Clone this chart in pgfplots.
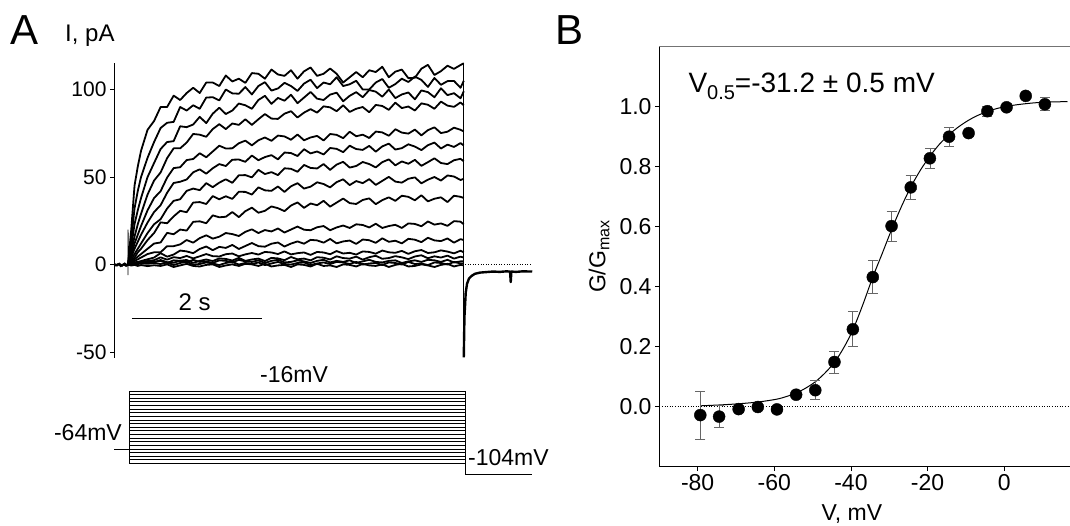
\documentclass[border=0pt]{standalone}
\usepackage{fontspec}
\setmainfont{Liberation Sans}
\usepackage{pgfplots}
\pgfplotsset{compat=1.18}
\usepackage{pgfplotstable}

\pgfplotstableread{
t T1 T2 T3 T4 T5 T6 T7 T8 T9 T10 T11 T12 T13 T14 T15 T16
0 0 0 0 0 0 0 0 0 0 0 0 0 0 0 0 0
0.05 20 14 10 7 5 4 2.5 2 1 1 0.5 0.3 0.8 0.8 0.3 -0.6
0.1 45 32 23 16 12 9 6 4 3 2 1 0.5 -0.3 1.2 0.6 -0.2
0.15 56 42 31 23 17 13 9 7 4.5 3 1.5 1.2 0.8 1.5 0.2 -0.8
0.2 65 50 38 29 22 17 12 9 6 4 2 1 0.5 1.4 0.8 -0.3
0.3 77 61 50 40 31 24 18 14 9 6 3 2 1 2 0.4 -0.9
0.4 82 70 58 48 38 30 23 18 12 7 4 2.5 1.2 1.6 0.9 -0.4
0.5 90 78 66 52.6 41.9 33.9 25.9 24.1 12.6 7 6.5 4.1 2.6 2.1 0.3 -0.8
0.6 90 81 70 60.8 49.7 41 32 23.6 18.1 10.5 4.5 2.8 1.3 0.9 1.2 0.1
0.7 96.5 81.5 70.5 66.4 55.1 46.6 36.4 27.5 17.3 10.5 5.7 4.2 1.0 2.4 -0.3 -1.4
0.8 94 90 79 66.4 55.6 47.3 37.3 30.7 20 11.5 8 3.7 2.2 2.1 0.9 -0.5
0.9 98 88 78.5 69.7 59.7 48.6 42.1 29.9 19.4 14 7.5 4.9 2.6 1.2 1.5 0.4
1.0 101 91 80 74.6 60.3 52.7 43.4 35.4 24.4 12.5 6.5 3.5 1.0 2.7 0 -0.8
1.1 98 89 84.4 74.2 63.6 54.4 42.5 35.7 24.7 15.1 8.9 4.7 2.1 1.5 0.3 -1.1
1.2 104 95.4 80.8 73 61.3 51.9 46.5 34.6 23.6 16.7 10.3 6.0 2.9 1.8 1.2 -0.2
1.3 104 95.6 86.2 77.4 64.6 55 44.2 39.1 28.1 14.8 8.2 4.8 2.0 0.9 0.6 0.1
1.4 102 93.8 89.6 80.2 67.9 57.4 46.8 37.3 27 15.9 10.1 4.6 3.5 2.4 -0.3 -1.4
1.5 108 100 86 77.4 66.3 56.3 48.7 39 27.3 18 9.5 5.9 3.2 2.1 0.9 -0.5
1.6 104.6 97.8 88 80.6 66.4 59.9 46.7 37.5 30 17.4 11.2 6.3 2.3 1.2 1.5 0.1
1.7 106.2 97.6 92 79.8 69.3 60 51 41.6 27.1 16.3 8.9 4.7 3.8 2.7 0 -0.8
1.8 103.8 101.4 91 83 70.8 58.7 51.1 41.5 30.5 18.7 10.6 5.8 2.1 1.8 0.9 0.4
1.9 109.4 97.2 89 79.8 68.1 62.3 49.8 40 32.5 20.1 12.3 6.6 2.9 1.5 0.3 0.1
2.0 109 102 94 83 71 59.6 54.1 44.1 29.6 18 10.5 5.7 3.4 2.4 1.2 -0.8
2.1 106.2 104.2 96.4 86 72.6 61.4 51.7 42.4 30.7 19.7 10.2 7.2 2.0 0.9 -0.3 0.4
2.2 111.4 99.4 91.8 83.4 70.7 62.5 52.8 42.1 33.2 18.9 11.9 6.9 3.8 2.1 0.6 -1.1
2.3 108.6 100.6 95.2 83.2 73.7 60.1 51.1 44.6 32.2 20.6 12.6 6.0 3.5 2.7 1.5 -0.5
2.4 107.8 103.8 93.6 86.2 73.2 64 55 41.5 30.5 18.3 10.3 7.5 2.5 1.2 0.3 -0.2
2.5 111 102 97 87.6 71.3 63.7 54.7 44.7 33.7 20 12 5.8 4.3 1.5 0 -1.4
2.6 106.2 99.2 92.2 84 74.3 62 53 46.5 35.5 21.7 13.2 6.5 3.0 2.4 0.9 0.1
2.7 110.4 103.4 95.4 86.8 71 65.9 56.9 43.4 32.4 19.9 11.9 6.9 3.4 1.8 1.2 -0.2
2.8 112.6 105.6 98.6 88.8 72.6 63.5 55.2 44.5 34.9 19.6 14.1 5.5 2.4 0.9 -0.3 -1.1
2.9 107.8 100.8 94.8 86.8 73.5 64.6 54.9 47 33.9 21.3 13.8 7.2 4.2 2.1 0.6 0.4
3.0 109 104 94 90.4 70.9 62.9 57.4 46 36.4 22 12.5 6.9 3.9 2.7 1.2 -0.8
3.1 112 103 97.1 89.8 74.6 66.6 54.1 44.1 33.1 19.6 14.6 5.9 2.9 1.2 0.3 -0.5
3.2 109 107 98.2 87.6 74.1 66.1 57.1 47.1 35.4 21.2 12.1 7.7 4.7 2.1 1.5 -1.4
3.3 104 102 93.3 91 72.2 64.2 58.7 48.7 37.7 22.3 13.2 6.3 3.7 1.5 1.2 0.1
3.4 107 103 96.4 87.2 75.9 67.9 55.4 45.4 35.1 20.9 13.7 6.7 3.4 2.4 0.3 -0.2
3.5 110 105 98.5 89 73.3 66 56.3 47.7 34.6 23 11.8 5.7 4.5 0.9 1.5 -1.1
3.6 107 100 95.6 90 74.2 65.5 58.6 46.5 36.9 22.6 14.3 7.5 2.8 1.8 0 0.4
3.7 111 100 99.7 87 72.3 67.8 57.4 48.8 37.8 21.2 13.9 7.2 4.2 2.7 0.6 -0.5
3.8 110 104 98.8 91.2 76 64.5 55.5 45.5 34.5 23.3 12.4 6.2 5.0 1.5 0.9 -0.8
3.9 113 106 95.9 90.6 75.5 67.5 58.5 47.8 36.8 20.9 15.0 8.0 3.3 1.2 -0.3 0.1
4.0 107 101 100 88.4 73.6 69.1 60.1 50.1 38.4 22 13 7 3.7 2.1 1.2 -1.4
4.1 110.2 103.1 95.1 92.5 77.3 65.7 56.7 47.4 36.4 22.7 13.6 6.7 4.8 2.4 0.9 -0.2
4.2 111.4 106.2 97.2 89.4 75.4 66.5 58.9 46.8 39.3 20.9 12.1 7.8 4.1 0.9 0 0.4
4.3 106.5 104.3 98.3 90.3 74.8 68.7 57.6 49 38.7 23.5 14.7 6.1 3.1 1.8 1.5 -1.1
4.4 106.7 107.4 94.4 88 77.1 67.4 59.8 49.8 36.7 23.2 14.2 7.6 4.6 2.4 0.3 -0.8
4.5 111.9 105.5 99.5 92.1 73.8 65.4 56.4 46.4 39.6 21.9 12.8 8.3 5.3 1.5 0.6 0.1
4.6 114.1 101.5 98.5 91.3 76.8 68.2 58.5 48.5 36.1 24.6 15.3 6.6 3.6 2.7 -0.3 -0.5
4.7 108.3 106.6 95.6 89 78.4 69.7 60.7 50 37.6 22.8 13.8 7.0 4.7 2.4 1.2 -1.4
4.8 110.5 102.7 100.7 93.1 75.1 66.3 58 48 38.4 23.5 13.4 8.1 4.0 1.5 0.9 -0.2
4.9 113.6 104.8 96.8 90.8 75.9 68.5 57.4 50.9 35.7 22.1 14.9 7.4 5.1 2.7 0 0.4
5.0 111.8 104.9 97.9 90.1 78.2 67.2 59.6 50.3 39.3 24.8 12.5 6.4 3.4 1.2 1.5 -1.1
5.1 114 101 95 92.6 77 69.4 60.4 48.3 38.7 24.5 14.5 7.9 4.5 1.8 0.6 -0.2
5.15 115 105 99 91 76 68 59 49 38 23 14 7 4 1.8 0.6 -0.5
}\traces

\pgfplotstableread{
v g e
-79.3 -0.028 0.080
-74.4 -0.033 0.036
-69.3 -0.008 0.010
-64.3 -0.001 0.008
-59.3 -0.009 0.008
-54.3 0.040 0.010
-49.3 0.055 0.032
-44.3 0.149 0.037
-39.5 0.258 0.058
-34.3 0.432 0.056
-29.4 0.602 0.050
-24.4 0.731 0.041
-19.4 0.828 0.033
-14.4 0.900 0.032
-9.3 0.912 0.010
-4.4 0.985 0.017
0.6 0.998 0.012
5.6 1.036 0.005
10.6 1.008 0.022
}\gvdata

\pgfplotstableread{
v g
-79.2 0.003
-74 0.006
-69 0.010
-64 0.016
-59.4 0.025
-56.8 0.034
-54.2 0.046
-51.8 0.062
-49.3 0.083
-46.8 0.112
-44.3 0.148
-41.9 0.196
-39.5 0.256
-36.9 0.340
-34.3 0.432
-31.8 0.512
-29.4 0.590
-26.9 0.665
-24.4 0.732
-21.9 0.788
-19.4 0.835
-16.9 0.875
-14.4 0.907
-11.9 0.933
-9.3 0.955
-6.9 0.971
-4.4 0.984
-1.9 0.994
0.6 1.001
3.0 1.006
5.6 1.010
8.0 1.013
10.6 1.015
13.0 1.016
16.5 1.017
}\gvfit

\begin{document}
\begin{tikzpicture}[x=1pt,y=1pt]
\path[use as bounding box] (0,0) rectangle (1070,525);

% ---------- Panel A: currents ----------
\begin{axis}[
  at={(114.3pt,167pt)}, anchor=south west, scale only axis,
  width=421.2pt, height=294.9pt,
  xmin=-0.21, xmax=6.25, ymin=-53.4, ymax=115.1,
  hide x axis, axis y line*=left,
  axis line style={-, line width=0.8pt},
  ytick={-50,0,50,100}, yticklabels={-50,0,50,100},
  ytick pos=left, tick align=outside, major tick length=4.3pt,
  tick style={line width=0.8pt, black},
  yticklabel style={font=\fontsize{21}{25}\selectfont},
  clip=false,
]
\pgfplotsinvokeforeach{1,...,16}{
  \addplot[black, line width=1.8pt, line join=round] table[x=t, y=T#1]{\traces};
}
% baseline before step and capacitive artefact
\addplot[black, line width=1.8pt] coordinates {(-0.21,0.4) (-0.17,-0.6) (-0.13,0.5) (-0.09,-0.7) (-0.05,0.6) (-0.01,-0.4) (0,0)};
\addplot[black, line width=1.8pt] coordinates {(-0.21,-0.8) (-0.15,0.3) (-0.11,-0.9) (-0.07,0.2) (-0.03,-0.8) (0,0)};
\addplot[black, line width=0.9pt] coordinates {(0,-6) (0,20) (0.01,0)};
% end of step, tail current
\addplot[black, line width=1.3pt] coordinates {(5.15,115) (5.15,-53)};
\addplot[black, line width=2.4pt, line join=round] coordinates {(5.15,-53) (5.16,-30) (5.18,-16) (5.2,-11) (5.23,-8) (5.27,-6.5) (5.32,-5.3) (5.4,-4.6) (5.5,-4.3) (5.6,-4) (5.7,-4.2) (5.8,-3.9) (5.86,-4) (5.87,-10) (5.88,-4) (5.95,-4.2) (6.05,-3.9) (6.2,-4)};
\addplot[black, dotted, line width=0.6pt] coordinates {(5.17,0) (6.2,0)};
% scale bar
\addplot[black, line width=0.9pt] coordinates {(0.06,-30.6) (2.06,-30.6)};
\end{axis}

% ---------- Panel A: voltage protocol ----------
\begin{axis}[
  at={(114.3pt,49.5pt)}, anchor=south west, scale only axis,
  width=421.2pt, height=85.8pt,
  xmin=-0.21, xmax=6.25, ymin=-86, ymax=-15,
  axis lines=none, clip=false,
]
\pgfplotsinvokeforeach{-76,-73,...,-16}{
  \addplot[black, line width=0.75pt] coordinates {(0.02,#1) (5.17,#1)};
}
\addplot[black, line width=0.8pt] coordinates {(0.02,-76) (0.02,-16)};
\addplot[black, line width=0.8pt] coordinates {(5.17,-16) (5.17,-85) (6.19,-85)};
\addplot[black, line width=0.8pt] coordinates {(-0.21,-64) (0.02,-64)};
\end{axis}

% ---------- Panel B: G/Gmax ----------
\begin{axis}[
  at={(659.3pt,58.3pt)}, anchor=south west, scale only axis,
  width=412.4pt, height=420pt,
  xmin=-90, xmax=17.6, ymin=-0.2, ymax=1.2,
  axis lines*=left, axis line style={-, line width=0.8pt},
  xtick={-80,-60,-40,-20,0}, xticklabels={-80,-60,-40,-20,0},
  ytick={0,0.2,0.4,0.6,0.8,1}, yticklabels={0.0,0.2,0.4,0.6,0.8,1.0},
  tick pos=left, tick align=outside, major tick length=4.3pt,
  tick style={line width=0.8pt, black},
  ticklabel style={font=\fontsize{23}{27}\selectfont},
  xlabel={V, mV},
  ylabel={G/G\raisebox{-4pt}{\fontsize{16}{16}\selectfont max}},
  label style={font=\fontsize{23}{27}\selectfont},
  xlabel style={at={(axis description cs:0.467,-0.112)}, anchor=center},
  ylabel style={at={(axis description cs:-0.146,0.5)}, anchor=center},
  clip=false,
]
\addplot[black, dotted, line width=0.6pt] coordinates {(-90,0) (17.6,0)};
\addplot[black, line width=1pt, smooth] table[x=v, y=g]{\gvfit};
\addplot[black, only marks, mark=*, mark size=6pt,
  error bars/.cd, y dir=both, y explicit,
  error bar style={line width=0.8pt, black!60},
  error mark options={rotate=90, mark size=5pt, line width=0.8pt, black!60}]
  table[x=v, y=g, y error=e]{\gvdata};
\draw[black!55, line width=0.8pt] (rel axis cs:0,1) -- (rel axis cs:1,1);
\end{axis}

% ---------- Texts ----------
\node[anchor=base west, inner sep=0, font=\fontsize{42}{42}\selectfont] at (10,480) {A};
\node[anchor=base west, inner sep=0, font=\fontsize{42}{42}\selectfont] at (555,480) {B};
\node[anchor=base west, inner sep=0, font=\fontsize{24}{24}\selectfont] at (65,483) {I, pA};
\node[anchor=base, inner sep=0, font=\fontsize{24}{24}\selectfont] at (194.6,214) {2 s};
\node[anchor=base, inner sep=0, font=\fontsize{23}{23}\selectfont] at (294,143) {-16mV};
\node[anchor=base east, inner sep=0, font=\fontsize{23}{23}\selectfont] at (122,85) {-64mV};
\node[anchor=base west, inner sep=0, font=\fontsize{23}{23}\selectfont] at (468,60) {-104mV};
\node[anchor=base west, inner sep=0, font=\fontsize{28}{28}\selectfont] at (688.3,432.3) {V\raisebox{-6.5pt}{\fontsize{20}{20}\selectfont 0.5}=-31.2 ± 0.5 mV};
\end{tikzpicture}
\end{document}
